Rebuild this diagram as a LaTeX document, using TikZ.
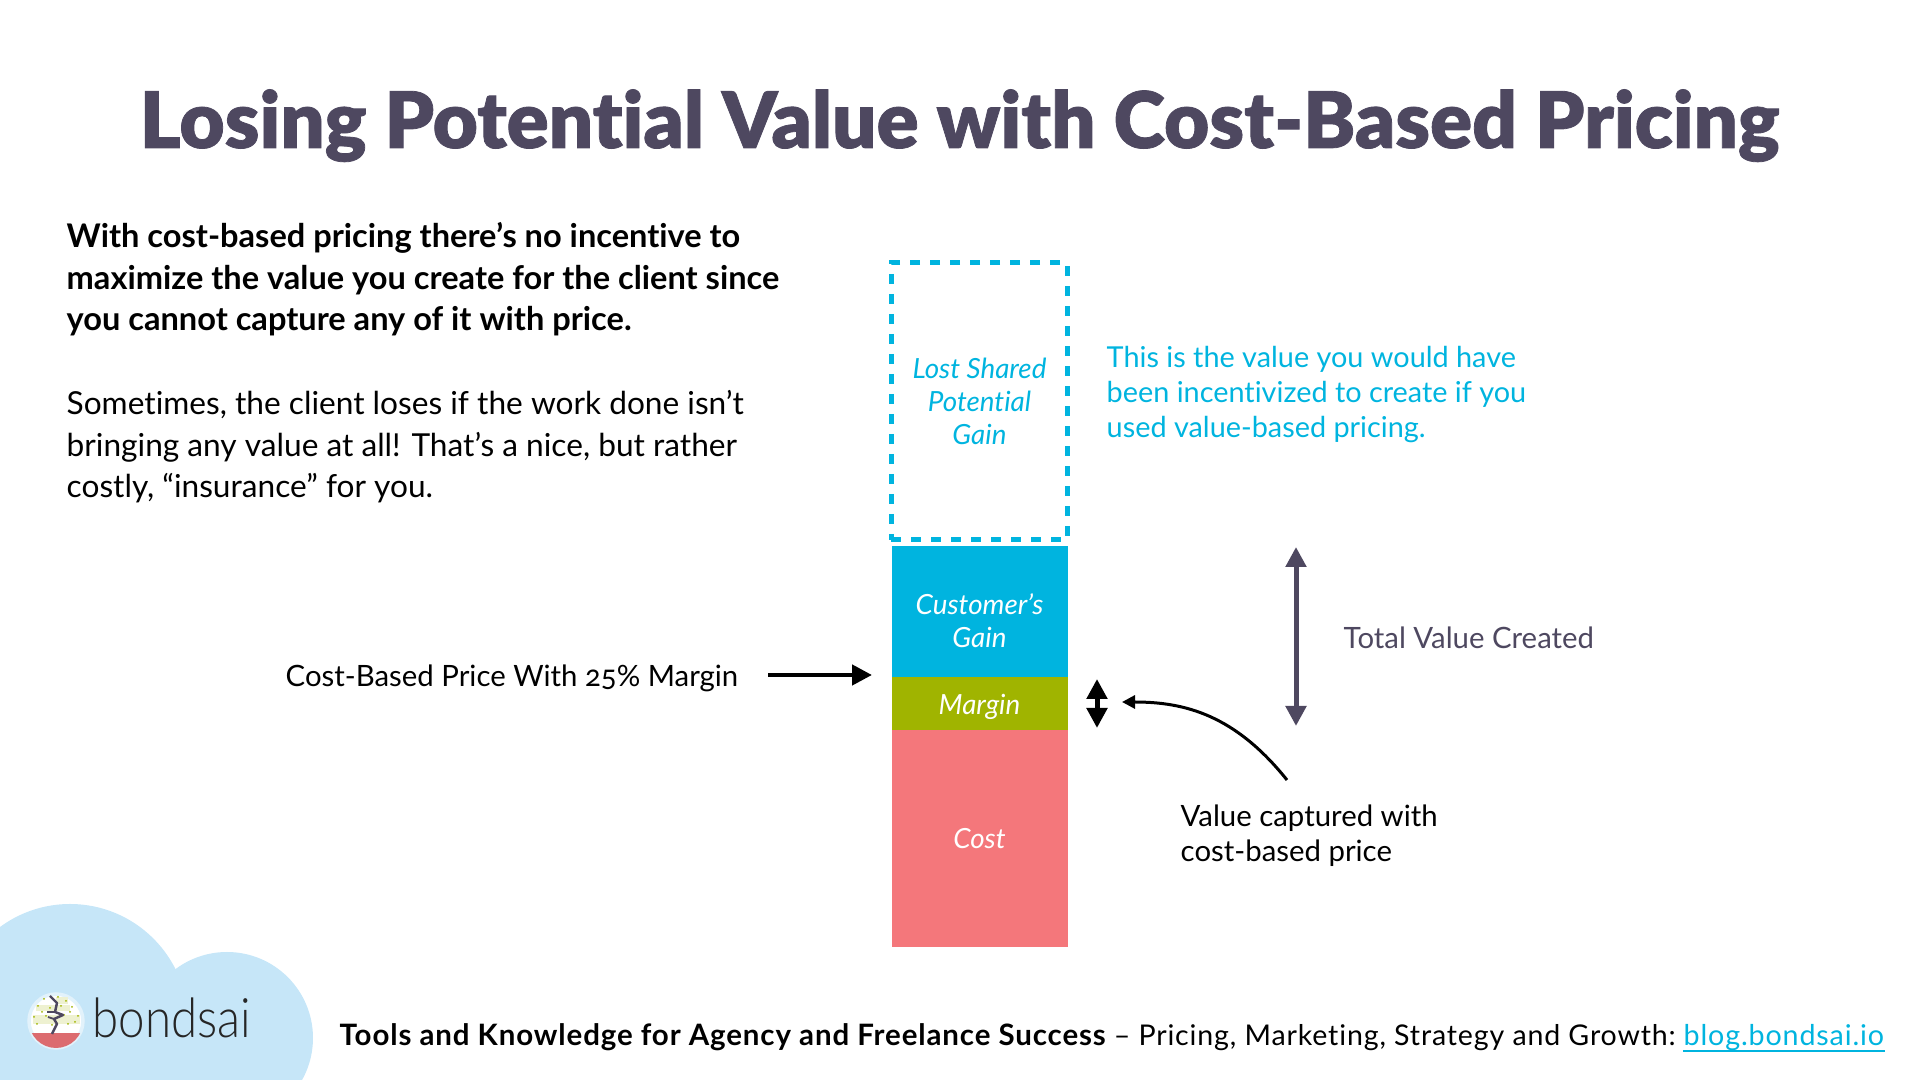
\documentclass[tikz,border=0pt]{standalone}
\usepackage{fontspec}
\usepackage{tikz}
\usetikzlibrary{arrows.meta}
\setmainfont[Ligatures={TeX,NoCommon},Numbers=OldStyle]{Lato}
\newfontfamily\titlefont[Ligatures={TeX,NoCommon},FakeBold=1]{Lato Black}
\newfontfamily\logofont[FakeStretch=0.87]{Lato Light}
\definecolor{slate}{HTML}{4E4860}
\definecolor{sky}{HTML}{00B4DF}
\definecolor{olive}{HTML}{A0B400}
\definecolor{rose}{HTML}{F4777B}
\definecolor{cloud}{HTML}{C6E6F8}
\tikzset{
  bodytext/.style={anchor=base west, inner sep=0pt, align=left, font=\fontsize{9.0}{11.9}\selectfont},
  notetext/.style={anchor=base west, inner sep=0pt, align=left, font=\fontsize{8.35}{10}\selectfont},
  barlabel/.style={anchor=base, inner sep=0pt, align=center, font=\fontsize{7.9}{9.4}\selectfont\itshape},
  barpart/.style={minimum width=176*0.01cm, inner sep=0pt, outer sep=0pt, anchor=north west},
  bigarrow/.style={line width=4.5*0.01cm, -{Triangle[length=20*0.01cm,width=20*0.01cm]}},
  bothways/.style={line width=5*0.01cm, {Triangle[length=20*0.01cm,width=20*0.01cm]}-{Triangle[length=20*0.01cm,width=20*0.01cm]}}
}
\begin{document}
\begin{tikzpicture}[x=0.01cm,y=-0.01cm]
      \useasboundingbox (0,0) rectangle (1920,1080);
      \clip (0,0) rectangle (1920,1080);

      % cloud and logo
      \fill[cloud] (70,1022) circle (118);
      \fill[cloud] (227,1038) circle (86);
      \fill[cloud] (0,1000) rectangle (227,1080);
      \node[circle, fill=white, draw=cloud!50, line width=1pt, minimum size=54*0.01cm, inner sep=0pt] (logo) at (56,1021) {};
      \begin{scope}
        \clip (56,1021) circle (27);
        \fill[rose!90!black] (29,1033) rectangle (83,1048);
        \fill[olive!18] (36,1005) rectangle (70,1011);
        \fill[olive!18] (33,1015) rectangle (80,1024);
        \fill[olive!18] (56,997) rectangle (68,1004);
        \foreach \leafx/\leafy in {44/999,58/997,66/1001,38/1006,50/1008,72/1007,34/1017,46/1016,64/1015,78/1016,37/1024,52/1025,68/1024,61/1006,75/1022,42/1012,70/1012}
          \fill[olive] (\leafx,\leafy) circle (1);
      \end{scope}
      \draw[slate, line width=0.7pt, line join=round] (52,1034) -- (57,1024) -- (54,1019) -- (63,1015) -- (55,1012) -- (57,1003) -- (50,996);
      \draw[slate, line width=0.5pt] (55,1012) -- (47,1012);
      \draw[slate, line width=0.5pt] (54,1019) -- (48,1017);
      \node[anchor=base west, inner sep=0pt, text=black!85, font=\fontsize{15.5}{18}\logofont] (brand) at (92,1038) {bondsai};

      % title and left text
      \node[anchor=base, inner sep=0pt, text=slate, font=\fontsize{22.18}{26}\titlefont] (title) at (959.5,148) {Losing Potential Value with Cost-Based Pricing};
      \node[bodytext, font=\fontsize{9.26}{11.9}\selectfont\bfseries] (lead) at (66,331) {With cost-based pricing there’s no incentive to\\maximize the value you create for the client since\\you cannot capture any of it with price.};
      \node[bodytext] (detail) at (66,498) {Sometimes, the client loses if the work done isn’t\\bringing any value at all! That’s a nice, but rather\\costly, “insurance” for you.};

      % bar
      \node[barpart, draw=sky, dash pattern=on 10*0.01cm off 10*0.01cm, line width=5*0.01cm, minimum height=277*0.01cm] (lost) at (891,263) {};
      \node[barpart, fill=sky, minimum height=131*0.01cm] (gain) at (891.5,546) {};
      \node[barpart, fill=olive, minimum height=53*0.01cm] (margin) at (891.5,677) {};
      \node[barpart, fill=rose, minimum height=217*0.01cm] (cost) at (891.5,730) {};
      \node[barlabel, text=sky] (lostlabel) at (979.5,445) {Lost Shared\\Potential\\Gain};
      \node[barlabel, text=white] (gainlabel) at (979.5,648) {Customer’s\\Gain};
      \node[barlabel, text=white] (marginlabel) at (979.5,715) {Margin};
      \node[barlabel, text=white] (costlabel) at (979.5,849) {Cost};

      % notes
      \node[notetext, text=sky, font=\fontsize{8.2}{10}\selectfont] (lostnote) at (1106,438) {This is the value you would have\\been incentivized to create if you\\used value-based pricing.};
      \node[notetext, text=slate] (totalnote) at (1343,649) {Total Value Created};
      \node[notetext] (pricenote) at (285,687) {Cost-Based Price With 25\% Margin};
      \node[notetext] (capturenote) at (1180,862) {Value captured with\\cost-based price};

      % connectors
      \coordinate (pricefrom) at (768,675);
      \coordinate (priceto) at (872,675);
      \coordinate (tinytop) at (1097,679);
      \coordinate (tinybottom) at (1097,728);
      \coordinate (totaltop) at (1296,547);
      \coordinate (totalbottom) at (1296,726);
      \coordinate (capturefrom) at (1287,780);
      \coordinate (captureto) at (1122,702);
      \draw[bigarrow] (pricefrom) -- (priceto);
      \draw[bothways] (tinytop) -- (tinybottom);
      \draw[bothways, slate] (totaltop) -- (totalbottom);
      \draw[line width=3*0.01cm, -{Triangle[length=13*0.01cm,width=13*0.01cm]}] (capturefrom) .. controls (1235,715) and (1185,702) .. (captureto);

      % footer
      \node[anchor=base west, inner sep=0pt, font=\fontsize{8.12}{10}\selectfont\addfontfeature{LetterSpace=3}] (footer) at (339,1046) {{\fontsize{8.38}{10}\selectfont\bfseries Tools and Knowledge for Agency and Freelance Success} – Pricing, Marketing, Strategy and Growth:};
      \node[anchor=base west, inner sep=0pt, text=sky, font=\fontsize{8.15}{10}\selectfont\addfontfeature{LetterSpace=3}] (link) at (1683,1046) {blog.bondsai.io};
      \draw[sky, line width=2*0.01cm] ([yshift=-5*0.01cm]link.base west) -- ([yshift=-5*0.01cm]link.base east);
    \end{tikzpicture}
\end{document}
